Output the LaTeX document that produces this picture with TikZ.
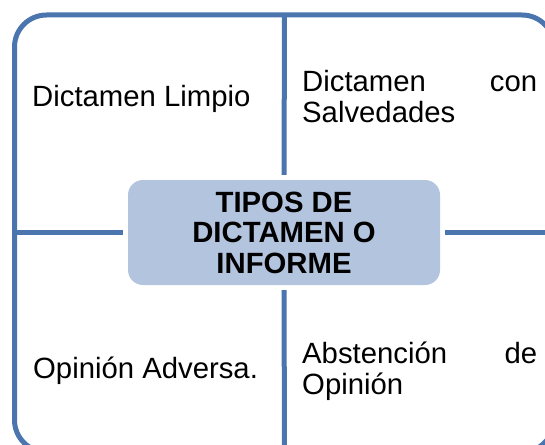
\documentclass[tikz,border=0pt]{standalone}
\usepackage{fontspec}
\setmainfont{Liberation Sans}
\definecolor{framecol}{HTML}{4A75AF}
\definecolor{boxfill}{HTML}{B3C4DF}
\begin{document}
\begin{tikzpicture}[x=1pt,y=-1pt,
  frameline/.style={draw=framecol,line width=5pt},
  divider/.style={draw=framecol,line width=5pt,shorten <=5pt},
  quad/.style={inner sep=0pt,anchor=base west,font=\fontsize{29.3}{31}\selectfont},
  hub/.style={fill=boxfill,rounded corners=15pt,minimum width=312pt,minimum height=105pt,
    inner sep=0pt,align=center,font=\fontsize{29.3}{30.5}\selectfont\bfseries}]
\useasboundingbox (0,0) rectangle (545,444);
\clip (0,0) rectangle (545,444);
\draw[frameline,rounded corners=32pt] (14.5,15) rectangle (554,452);
\node[hub] (c) at (284,232.5) {TIPOS DE\\DICTAMEN O\\INFORME};
\coordinate (topend) at (284.5,15);
\coordinate (botend) at (284.5,452);
\coordinate (leftend) at (14.5,232.5);
\coordinate (rightend) at (554,232.5);
\draw[divider] (c.north) -- (topend);
\draw[divider] (c.south) -- (botend);
\draw[divider] (c.west) -- (leftend);
\draw[divider] (c.east) -- (rightend);
\node[quad] (q1) at (32,106) {Dictamen Limpio};
\node[quad] (q2) at (302,91) {\parbox[t]{235pt}{\fontsize{29.3}{31}\selectfont Dictamen\hfill con\\Salvedades}};
\node[quad] (q3) at (33,378) {Opinión Adversa.};
\node[quad] (q4) at (302,363) {\parbox[t]{235pt}{\fontsize{29.3}{31}\selectfont Abstención\hfill de\\Opinión}};
\end{tikzpicture}
\end{document}
